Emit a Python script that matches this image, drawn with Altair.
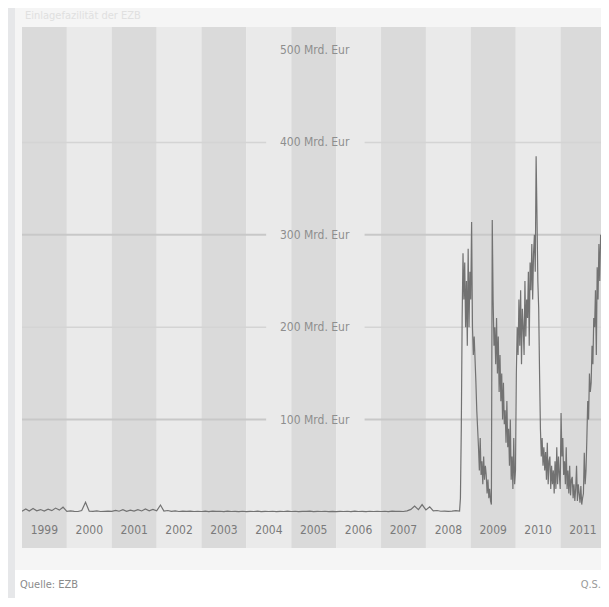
import altair as alt
import pandas as pd

# ---------------- data ----------------
years = list(range(1999, 2012))
year_labels = [str(y) for y in years]

grid_levels = [100, 200, 300, 400, 500]
grid_labels = ["100 Mrd. Eur", "200 Mrd. Eur", "300 Mrd. Eur", "400 Mrd. Eur", "500 Mrd. Eur"]

# monthly usage of the deposit facility, Jan 1999 .. Sep 2008 (Mrd. EUR)
monthly_1999 = [0.8, 3.2, 1.0, 3.8, 1.2, 2.6, 0.9, 3.0, 1.4, 4.2, 2.0, 5.2]
monthly_2000 = [0.6, 1.2, 0.7, 0.5, 1.5, 10.5, 0.8, 0.6, 1.1, 0.5, 0.7, 0.9]
monthly_2001 = [0.6, 1.8, 0.8, 2.4, 0.7, 2.0, 1.0, 2.6, 1.1, 3.2, 1.3, 2.8]
monthly_2002 = [1.2, 7.5, 0.9, 1.6, 0.6, 1.1, 0.5, 0.9, 0.6, 1.0, 0.5, 0.8]
monthly_2003 = [0.5, 0.9, 0.4, 1.0, 0.6, 0.8, 0.4, 0.9, 0.5, 0.7, 0.4, 0.8]
monthly_2004 = [0.4, 0.7, 0.5, 0.9, 0.4, 0.6, 0.5, 0.8, 0.4, 0.7, 0.5, 0.9]
monthly_2005 = [0.5, 0.8, 0.4, 0.7, 0.6, 0.9, 0.4, 0.6, 0.5, 0.8, 0.4, 0.7]
monthly_2006 = [0.4, 0.7, 0.5, 0.8, 0.4, 0.9, 0.5, 0.7, 0.4, 0.8, 0.5, 0.6]
monthly_2007 = [0.5, 0.8, 0.4, 0.9, 0.6, 0.8, 0.5, 1.2, 2.8, 6.5, 2.5, 8.0]
monthly_2008 = [2.2, 5.5, 1.2, 1.6, 0.8, 1.0, 0.6, 0.9, 1.4]

# weekly values from 2008-10-01 onward (Mrd. EUR)
weekly_2008 = [1, 15, 90, 210, 280,
               230, 270, 200, 250,
               180, 285, 200, 260, 230]
weekly_2009 = [314, 200, 170, 190,
               165, 140, 110, 90,
               70, 45, 80, 40,
               55, 30, 60, 35, 50,
               40, 20, 35, 15,
               25, 12, 8, 316,
               230, 180, 200, 160, 210,
               150, 190, 130, 170,
               120, 150, 100, 140, 95,
               110, 75, 120, 70,
               90, 50, 100, 35,
               60, 25, 80, 30, 45]
weekly_2010 = [150, 200, 170, 230,
               180, 240, 160, 220,
               200, 170, 250, 190, 230,
               210, 260, 180, 270,
               240, 290, 230, 280,
               300, 260, 385, 320, 250,
               220, 150, 90, 60,
               80, 50, 70, 45,
               65, 35, 75, 30, 55,
               60, 25, 50, 30,
               45, 20, 55, 25,
               70, 30, 60, 40, 25]
weekly_2011 = [107, 60, 80, 40,
               55, 30, 70, 25,
               45, 20, 50, 18, 35,
               38, 15, 30, 12,
               25, 50, 12, 30,
               20, 10, 28, 8, 15,
               20, 64, 30, 45,
               80, 120, 100, 150, 130,
               140, 180, 160, 210,
               200, 240, 170, 265,
               230, 290, 250, 300]

title_text = "Einlagefazilität der EZB"
source_text = "Quelle: EZB"
credit_text = "Q.S."

# ---------------- tables ----------------
monthly = (monthly_1999 + monthly_2000 + monthly_2001 + monthly_2002 + monthly_2003 +
           monthly_2004 + monthly_2005 + monthly_2006 + monthly_2007 + monthly_2008)
weekly = weekly_2008 + weekly_2009 + weekly_2010 + weekly_2011
d1 = pd.date_range("1999-01-01", periods=len(monthly), freq="MS")
d2 = pd.date_range("2008-10-01", periods=len(weekly), freq="7D")
series = pd.DataFrame({
    "date": [d.strftime("%Y-%m-%d") for d in list(d1) + list(d2)],
    "value": monthly + weekly,
})

bands = pd.DataFrame({
    "start": [f"{y}-01-01" for y in years],
    "end": [f"{y + 1}-01-01" for y in years],
    "mid": [f"{y}-07-02" for y in years],
    "label": year_labels,
    "shade": ["dark" if (y - 1999) % 2 == 0 else "light" for y in years],
    "ly": [-20] * len(years),
})

grid_rows = []
for lv in grid_levels[:4]:
    tone = "strong" if lv in (100, 300) else "soft"
    grid_rows.append({"level": lv, "s": "1999-01-01", "e": "2004-06-10", "tone": tone})
    grid_rows.append({"level": lv, "s": "2006-08-20", "e": "2011-11-26", "tone": tone})
grid = pd.DataFrame(grid_rows)
glabels = pd.DataFrame({"level": grid_levels, "label": grid_labels,
                        "x": ["2005-07-10"] * len(grid_levels)})

one = pd.DataFrame({"k": [0]})

FONT = "DejaVu Sans Condensed, DejaVu Sans, sans-serif"
W, H = 579, 521
xs = alt.Scale(domain=[alt.DateTime(year=1999, month=1, date=1),
                       alt.DateTime(year=2011, month=11, date=26)])
ys = alt.Scale(domain=[-39, 525], nice=False, zero=False)

panel = alt.Chart(one).mark_rect(color="#f5f5f5").encode(
    x=alt.value(-7), x2=alt.value(W + 2), y=alt.value(-27), y2=alt.value(543))
footer_bg = alt.Chart(one).mark_rect(color="#ffffff").encode(
    x=alt.value(-7), x2=alt.value(W + 2), y=alt.value(543), y2=alt.value(572))

band_layer = alt.Chart(bands).mark_rect(clip=True).encode(
    x=alt.X("start:T", scale=xs, axis=None),
    x2="end:T",
    y=alt.value(0), y2=alt.value(H),
    color=alt.Color("shade:N", scale=alt.Scale(domain=["dark", "light"],
                                               range=["#dadada", "#eaeaea"]), legend=None),
)

grid_layer = alt.Chart(grid).mark_rule().encode(
    x=alt.X("s:T", scale=xs, axis=None), x2="e:T",
    y=alt.Y("level:Q", scale=ys, axis=None),
    color=alt.Color("tone:N", scale=alt.Scale(domain=["strong", "soft"],
                                              range=["#c8c8c8", "#d4d4d4"]), legend=None),
    strokeWidth=alt.StrokeWidth("tone:N", scale=alt.Scale(domain=["strong", "soft"],
                                                          range=[2, 1.5]), legend=None),
)

glabel_layer = alt.Chart(glabels).mark_text(
    font=FONT, fontSize=12, color="#8e8e8e", align="center", baseline="middle").encode(
    x=alt.X("x:T", scale=xs, axis=None),
    y=alt.Y("level:Q", scale=ys, axis=None),
    text="label:N")

year_layer = alt.Chart(bands).mark_text(
    font=FONT, fontSize=12, color="#7a7a7a", align="center", baseline="middle").encode(
    x=alt.X("mid:T", scale=xs, axis=None),
    y=alt.Y("ly:Q", scale=ys, axis=None),
    text="label:N")

line_layer = alt.Chart(series).mark_line(color="#727272", strokeWidth=1.2, clip=True).encode(
    x=alt.X("date:T", scale=xs, axis=None),
    y=alt.Y("value:Q", scale=ys, axis=None))

title_layer = alt.Chart(one).mark_text(
    font=FONT, fontSize=11, color="#e0e0e0", align="left", baseline="middle").encode(
    x=alt.value(3), y=alt.value(-11), text=alt.value(title_text))
source_layer = alt.Chart(one).mark_text(
    font=FONT, fontSize=11, color="#8a8a8a", align="left", baseline="middle").encode(
    x=alt.value(-2), y=alt.value(558), text=alt.value(source_text))
credit_layer = alt.Chart(one).mark_text(
    font=FONT, fontSize=11, color="#9a9a9a", align="right", baseline="middle").encode(
    x=alt.value(W), y=alt.value(558), text=alt.value(credit_text))

chart = alt.layer(
    panel, footer_bg, band_layer, grid_layer, glabel_layer, year_layer, line_layer,
    title_layer, source_layer, credit_layer
).resolve_scale(color="independent", strokeWidth="independent").properties(
    width=W, height=H,
    padding={"left": 14, "top": 19, "right": 0, "bottom": 50},
    autosize=alt.AutoSizeParams(type="none"),
    background="#e6e7e9",
).configure_view(stroke=None)

chart.save("out.html", embed_options={"renderer": "svg", "actions": False})
